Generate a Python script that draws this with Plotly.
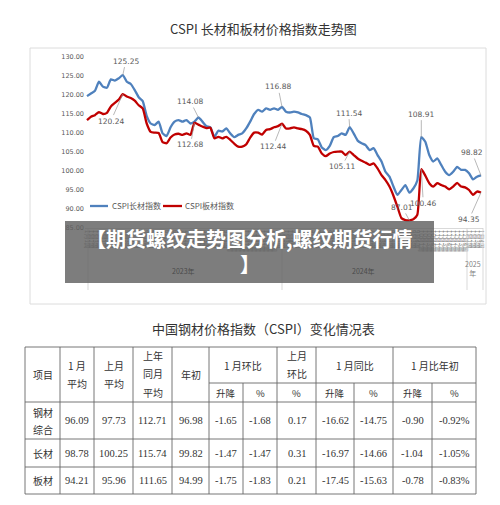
import plotly.graph_objects as go

# page has an 8px body margin; the figure is sized to fill the rest of the window
OFF = 8
W, H = 492, 497

# ---------------- data ----------------
long_idx = [119.7,120.4,121.1,123.5,122.2,121.9,124.1,123.8,124.4,125.25,
            123.5,122.9,121.3,119.4,118.4,114.5,112.5,112.1,113.0,109.9,
            109.2,111.5,113.0,113.4,113.0,113.4,112.5,113.0,114.08,113.0,
            111.8,111.5,109.0,110.6,110.4,111.2,109.9,108.9,109.5,109.9,
            111.2,113.0,115.0,116.1,115.6,116.5,116.1,116.5,116.1,116.88,
            115.6,115.4,115.6,115.4,115.0,114.7,114.1,108.6,108.3,106.2,
            105.5,106.6,108.9,109.2,109.9,109.5,111.54,109.9,108.0,107.3,
            106.8,105.5,106.0,104.2,102.5,99.8,98.5,95.9,93.7,95.0,
            96.3,94.3,95.4,97.5,108.91,107.7,104.2,102.5,103.3,101.6,
            99.8,98.9,99.8,101.1,100.3,100.3,99.4,97.8,98.5,98.82]

plate_idx = [113.4,114.3,114.7,115.5,115.0,115.3,117.0,117.9,118.8,120.24,
             119.6,119.2,118.5,117.3,116.5,112.5,110.3,110.1,110.0,107.6,
             107.3,108.8,109.6,109.8,109.5,109.9,109.5,112.68,112.2,111.7,
             111.3,111.4,108.6,109.0,108.6,109.0,108.2,107.2,106.4,106.4,
             107.0,108.8,110.1,110.1,109.6,110.8,111.0,111.5,111.8,112.44,
             111.2,111.2,111.5,111.2,111.0,110.6,109.5,106.6,106.4,104.6,
             103.9,104.6,105.0,105.1,105.1,104.2,105.11,104.2,103.3,102.7,
             102.2,101.6,102.0,100.7,98.9,97.6,95.9,93.5,90.6,87.6,
             87.1,87.01,87.3,88.5,100.46,98.8,96.8,95.9,96.8,96.3,
             95.9,95.2,95.9,96.9,95.9,95.7,95.0,93.7,94.6,94.35]

week_labels = ([f"{m}月{w}周" for m in range(1, 13) for w in range(1, 5)] * 2
               + [f"1月{w}周" for w in range(1, 5)])
x_idx = list(range(len(long_idx)))

year_labels = ["2023年", "2024年", "2025<br>年"]
y_ticks = [85, 90, 95, 100, 105, 110, 115, 120, 125, 130]

# labelled points: (index, dx, dy)
long_marks = [(9, 3, -14), (28, -8, -16), (49, -4, -20), (66, -1, -14), (84, 0, -23), (99, -9, -23)]
plate_marks = [(9, -12, 27), (27, -4, 22), (49, -9, 23), (66, -8, 15), (84, 2, 34), (81, -7, -13), (99, -12, 27)]

# table data
table_title = "中国钢材价格指数（CSPI）变化情况表"
row_names = ["钢材<br>综合", "长材", "板材"]
jan_avg = [96.09, 98.78, 94.21]
prev_avg = [97.73, 100.25, 95.96]
ly_avg = [112.71, 115.74, 111.65]
year_start = [96.98, 99.82, 94.99]
mom_chg = [-1.65, -1.47, -1.75]
mom_pct = [-1.68, -1.47, -1.83]
prev_mom_pct = [0.17, 0.31, 0.21]
yoy_chg = [-16.62, -16.97, -17.45]
yoy_pct = [-14.75, -14.66, -15.63]
ytd_chg = [-0.90, -1.04, -0.78]
ytd_pct = [-0.92, -1.05, -0.83]

BLUE = "#4f81bd"
RED = "#c00000"
CJK = "Noto Sans CJK SC"
SERIF = "Liberation Serif, Noto Sans CJK SC"


def fx(p):
    return (p - OFF) / W


def fy(p):
    return 1 - (p - OFF) / H


fig = go.Figure()
fig.add_trace(go.Scatter(x=x_idx, y=long_idx, mode="lines", name="CSPI长材指数",
                         line=dict(color=BLUE, width=2.3, shape="spline", smoothing=0.5),
                         hoverinfo="skip"))
fig.add_trace(go.Scatter(x=x_idx, y=plate_idx, mode="lines", name="CSPI板材指数",
                         line=dict(color=RED, width=2.3, shape="spline", smoothing=0.5),
                         hoverinfo="skip"))

shapes = []
ann = []


def hline(x0, x1, y, color="#666", w=0.9):
    shapes.append(dict(type="line", xref="paper", yref="paper", x0=fx(x0), x1=fx(x1),
                       y0=fy(y), y1=fy(y), line=dict(color=color, width=w), layer="above"))


def vline(x, y0, y1, color="#666", w=0.9):
    shapes.append(dict(type="line", xref="paper", yref="paper", x0=fx(x), x1=fx(x),
                       y0=fy(y0), y1=fy(y1), line=dict(color=color, width=w), layer="above"))


def text(x, y, t, size, color="#333", family=CJK, bold=False, xanchor="center"):
    ann.append(dict(x=fx(x), y=fy(y), xref="paper", yref="paper", text=t, showarrow=False,
                    xanchor=xanchor, yanchor="middle", align="center",
                    font=dict(size=size, color=color, family=family,
                              weight="bold" if bold else "normal")))


def mtext(x, yc, t, size, gap, color="#333", bold=False):
    lines = t.split("<br>")
    n = len(lines)
    for k, ln in enumerate(lines):
        text(x, yc + (k - (n - 1) / 2) * gap, ln, size, color, bold=bold)


# chart frame
shapes.append(dict(type="rect", xref="paper", yref="paper", x0=fx(30), x1=fx(486),
                   y0=fy(304), y1=fy(48), line=dict(color="#dcdcdc", width=1), layer="below"))
text(263, 28, "CSPI 长材和板材价格指数走势图", 13, "#333")

# legend
shapes.append(dict(type="line", xref="paper", yref="paper", x0=fx(90), x1=fx(108),
                   y0=fy(206), y1=fy(206), line=dict(color=BLUE, width=2.3)))
shapes.append(dict(type="line", xref="paper", yref="paper", x0=fx(163), x1=fx(182),
                   y0=fy(206), y1=fy(206), line=dict(color=RED, width=2.3)))
text(110, 206, "CSPI长材指数", 8, "#595959", xanchor="left")
text(183, 206, "CSPI板材指数", 8, "#595959", xanchor="left")

# point labels
for i, dx, dy in long_marks:
    ann.append(dict(x=i, y=long_idx[i], xref="x", yref="y", text=f"{long_idx[i]:.2f}",
                    showarrow=True, arrowhead=0, arrowwidth=0.7, arrowcolor="#9a9a9a",
                    ax=dx, ay=dy, font=dict(size=7.5, color="#595959", family="DejaVu Sans")))
for i, dx, dy in plate_marks:
    ann.append(dict(x=i, y=plate_idx[i], xref="x", yref="y", text=f"{plate_idx[i]:.2f}",
                    showarrow=True, arrowhead=0, arrowwidth=0.7, arrowcolor="#9a9a9a",
                    ax=dx, ay=dy, font=dict(size=7.5, color="#595959", family="DejaVu Sans")))

# year group separators
for xs in [88, 282, 467, 483]:
    vline(xs, 228, 290, color="#cfcfcf", w=0.8)
text(183, 271, year_labels[0], 7, "#4a4a4a")
text(363, 271, year_labels[1], 7, "#4a4a4a")
text(473, 268, year_labels[2], 7, "#7f7f7f")

# overlay banner
shapes.append(dict(type="rect", xref="paper", yref="paper", x0=fx(65), x1=fx(434),
                   y0=fy(283), y1=fy(221), line=dict(width=0),
                   fillcolor="rgba(96,96,96,0.82)", layer="above"))
mtext(249.5, 251, "【期货螺纹走势图分析,螺纹期货行情<br>】", 20, 25, "white", bold=True)

# ---------------- table ----------------
text(263, 328, table_title, 13, "#333")
cols = [25, 60, 94, 133, 172, 209, 243, 277, 316, 354, 393, 432, 476]
top, mid, hb, r1, r2, bot = 347, 383, 402, 439, 467, 494
for yy in [top, hb, r1, r2, bot]:
    hline(25, 476, yy)
hline(209, 476, mid)
for xx in [25, 60, 94, 133, 172, 209, 277, 316, 393, 476]:
    vline(xx, top, bot)
for xx in [243, 354, 432]:
    vline(xx, mid, bot)

hs = 10
mtext(42.5, 374, "项目", hs, 18)
mtext(77, 374, "1 月<br>平均", hs, 18)
mtext(113.5, 374, "上月<br>平均", hs, 18)
mtext(152.5, 373.5, "上年<br>同月<br>平均", hs, 18.5)
mtext(190.5, 374, "年初", hs, 18)
mtext(243, 365, "1 月环比", hs, 18)
mtext(296.5, 364.5, "上月<br>环比", hs, 18)
mtext(354.5, 365, "1 月同比", hs, 18)
mtext(434.5, 365, "1 月比年初", hs, 18)
for cx, t in [(226, "升降"), (260, "%"), (296.5, "%"), (335, "升降"), (373.5, "%"),
              (412.5, "升降"), (454, "%")]:
    text(cx, 392.5, t, 9.5)

row_y = [420.5, 453, 480.5]
centers = [(cols[k] + cols[k + 1]) / 2 for k in range(len(cols) - 1)]
for r in range(3):
    mtext(centers[0], row_y[r], row_names[r], hs, 17)
    vals = [jan_avg[r], prev_avg[r], ly_avg[r], year_start[r], mom_chg[r], mom_pct[r],
            prev_mom_pct[r], yoy_chg[r], yoy_pct[r], ytd_chg[r]]
    for c, v in enumerate(vals):
        text(centers[c + 1], row_y[r], f"{v:.2f}", 10.5, "#333", family=SERIF)
    text(centers[11], row_y[r], f"{ytd_pct[r]:.2f}%", 10.5, "#333", family=SERIF)

fig.update_layout(
    width=W, height=H, margin=dict(l=0, r=0, t=0, b=0),
    paper_bgcolor="white", plot_bgcolor="white", showlegend=False,
    font=dict(family=CJK),
    shapes=shapes, annotations=ann,
    xaxis=dict(domain=[fx(85), fx(483)], range=[-0.5, 99.5], showgrid=False, zeroline=False,
               showline=True, linecolor="#d9d9d9", linewidth=0.8,
               tickmode="array", tickvals=x_idx, ticktext=week_labels, tickangle=90,
               tickfont=dict(size=6, color="#8c8c8c"), ticks="", automargin=False),
    yaxis=dict(domain=[fy(228), fy(57)], range=[85, 130], showgrid=False, zeroline=False,
               showline=False, tickmode="array", tickvals=y_ticks, tickformat=".2f",
               tickfont=dict(size=6.5, color="#595959", family="DejaVu Sans"),
               ticks="", automargin=False),
)

fig.write_html("out.html")
